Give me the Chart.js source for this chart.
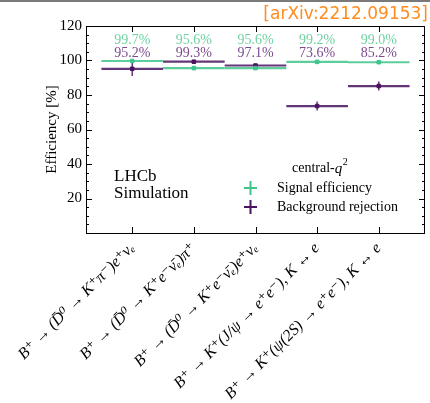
<!DOCTYPE html>
<html>
<head>
<meta charset="utf-8">
<script src="https://cdn.jsdelivr.net/npm/chart.js@4"></script>
<style>
  html, body { margin: 0; padding: 0; background: #fff; }
  #wrap { width: 430px; height: 403px; position: relative; }
</style>
</head>
<body>
<div id="wrap"><canvas id="effChart"></canvas></div>
<script>
// decay channels on the x axis
const categories = [
    "B⁺ → (D̄⁰ → K⁺π⁻)e⁺νₑ",
    "B⁺ → (D̄⁰ → K⁺e⁻ν̄ₑ)π⁺",
    "B⁺ → (D̄⁰ → K⁺e⁻ν̄ₑ)e⁺νₑ",
    "B⁺ → K⁺(J/ψ → e⁺e⁻), K ↔ e",
    "B⁺ → K⁺(ψ(2S) → e⁺e⁻), K ↔ e"
];
const signalEff = [99.7, 95.6, 95.6, 99.2, 99.0];
const signalErr = [0.8, 0.6, 0.6, 0.5, 0.5];
const bkgRej = [95.2, 99.3, 97.1, 73.6, 85.2];
const bkgErr = [4.2, 0.7, 0.9, 2.6, 2.6];
const yTicks = [20, 40, 60, 80, 100, 120];

const green = '#3fc58b';
const purple = '#4a135f';
const serif = "'Liberation Serif', 'DejaVu Serif', serif";

function pts(vals) {
    return vals.map((v, i) => ({ x: i, y: v }));
}

// draws horizontal bin width + vertical error for each point
const errorBars = {
    id: 'errorBars',
    beforeDatasetsDraw(chart) {
        const { ctx, scales: { x, y } } = chart;
        const sets = [[signalEff, signalErr, green], [bkgRej, bkgErr, purple]];
        ctx.save();
        sets.forEach(([vals, errs, col]) => {
            ctx.strokeStyle = col;
            ctx.globalAlpha = 0.85;
            vals.forEach((v, i) => {
                ctx.lineWidth = 2.2;
                ctx.beginPath();
                ctx.moveTo(x.getPixelForValue(i - 0.5), y.getPixelForValue(v));
                ctx.lineTo(x.getPixelForValue(i + 0.5), y.getPixelForValue(v));
                ctx.stroke();
                ctx.lineWidth = 1.5;
                ctx.beginPath();
                ctx.moveTo(x.getPixelForValue(i), y.getPixelForValue(v - errs[i]));
                ctx.lineTo(x.getPixelForValue(i), y.getPixelForValue(v + errs[i]));
                ctx.stroke();
            });
        });
        ctx.restore();
    }
};

// frame, inward ticks, annotations, legend
const decorations = {
    id: 'decorations',
    afterDraw(chart) {
        const { ctx, chartArea: a, scales: { x, y } } = chart;
        ctx.save();
        ctx.strokeStyle = '#000';
        ctx.lineWidth = 1;
        ctx.strokeRect(a.left + 0.5, a.top + 0.5, a.right - a.left - 1, a.bottom - a.top);

        // y ticks (major every 20, minor every 5) on both sides
        for (let v = 0; v <= 120; v += 5) {
            const py = Math.round(y.getPixelForValue(v)) + 0.5;
            const len = v % 20 === 0 ? 6 : 3;
            ctx.beginPath();
            ctx.moveTo(a.left, py); ctx.lineTo(a.left + len, py);
            ctx.moveTo(a.right, py); ctx.lineTo(a.right - len, py);
            ctx.stroke();
        }
        // x ticks top and bottom
        categories.forEach((c, i) => {
            const px = Math.round(x.getPixelForValue(i)) + 0.5;
            ctx.beginPath();
            ctx.moveTo(px, a.bottom); ctx.lineTo(px, a.bottom - 6);
            ctx.moveTo(px, a.top); ctx.lineTo(px, a.top + 6);
            ctx.stroke();
        });

        // percentage labels
        ctx.font = `14px ${serif}`;
        ctx.textAlign = 'center';
        ctx.textBaseline = 'middle';
        categories.forEach((c, i) => {
            const px = x.getPixelForValue(i);
            ctx.fillStyle = '#6ed3a2';
            ctx.fillText(signalEff[i].toFixed(1) + '%', px, 40);
            ctx.fillStyle = '#7b4b8d';
            ctx.fillText(bkgRej[i].toFixed(1) + '%', px, 53);
        });

        // LHCb label
        ctx.fillStyle = '#000';
        ctx.textAlign = 'left';
        ctx.font = `17px ${serif}`;
        ctx.fillText('LHCb', 114, 177);
        ctx.fillText('Simulation', 114, 194);

        // legend
        ctx.font = `14px ${serif}`;
        ctx.fillText('central-', 292, 168);
        const w = ctx.measureText('central-').width;
        ctx.font = `italic 15px ${serif}`;
        ctx.fillText('q', 292 + w, 169);
        ctx.font = `10px ${serif}`;
        ctx.fillText('2', 292 + w + 8, 162);
        ctx.font = `14px ${serif}`;
        [[green, 'Signal efficiency', 188], [purple, 'Background rejection', 207]].forEach(([col, txt, py]) => {
            ctx.strokeStyle = col;
            ctx.lineWidth = 2;
            ctx.beginPath();
            ctx.moveTo(244, py); ctx.lineTo(257, py);
            ctx.moveTo(250.5, py - 7); ctx.lineTo(250.5, py + 7);
            ctx.stroke();
            ctx.fillStyle = '#000';
            ctx.fillText(txt, 277, py);
        });

        // arXiv tag
        ctx.fillStyle = '#ff8c1e';
        ctx.textAlign = 'right';
        ctx.font = "17px 'DejaVu Sans', sans-serif";
        ctx.fillText('[arXiv:2212.09153]', 428, 15);

        // top rule
        ctx.fillStyle = '#7a7a7a';
        ctx.fillRect(0, 0, 430, 2);
        ctx.restore();
    }
};

const ctx = document.getElementById('effChart').getContext('2d');
const effChart = new Chart(ctx, {
    type: 'scatter',
    data: {
        datasets: [
            {
                label: 'Signal efficiency',
                data: pts(signalEff),
                backgroundColor: green,
                borderColor: green,
                pointStyle: 'rect',
                pointRadius: 2.5
            },
            {
                label: 'Background rejection',
                data: pts(bkgRej),
                backgroundColor: purple,
                borderColor: purple,
                pointStyle: 'rect',
                pointRadius: 2.5
            }
        ]
    },
    options: {
        responsive: true,
        maintainAspectRatio: false,
        animation: false,
        layout: { padding: { top: 26, right: 5, left: 0, bottom: 0 } },
        plugins: {
            legend: { display: false },
            tooltip: { enabled: false }
        },
        scales: {
            x: {
                type: 'linear',
                min: -0.75,
                max: 4.75,
                grid: { display: false, drawTicks: false },
                border: { display: false },
                afterBuildTicks: (axis) => {
                    axis.ticks = categories.map((c, i) => ({ value: i }));
                },
                afterFit: (axis) => { axis.height = 170; },
                ticks: {
                    autoSkip: false,
                    minRotation: 45,
                    maxRotation: 45,
                    padding: 6,
                    color: '#000',
                    font: { family: serif, size: 16, style: 'italic' },
                    callback: (v) => categories[Math.round(v)]
                }
            },
            y: {
                min: 0,
                max: 120,
                grid: { display: false, drawTicks: false },
                border: { display: false },
                afterBuildTicks: (axis) => {
                    axis.ticks = yTicks.map(v => ({ value: v }));
                },
                afterFit: (axis) => { axis.width = 86; },
                title: {
                    display: true,
                    text: 'Efficiency [%]',
                    color: '#000',
                    font: { family: serif, size: 15 },
                    padding: { top: 43, bottom: 0 }
                },
                ticks: {
                    padding: 4,
                    color: '#000',
                    font: { family: serif, size: 15 }
                }
            }
        }
    },
    plugins: [errorBars, decorations]
});
</script>
</body>
</html>
